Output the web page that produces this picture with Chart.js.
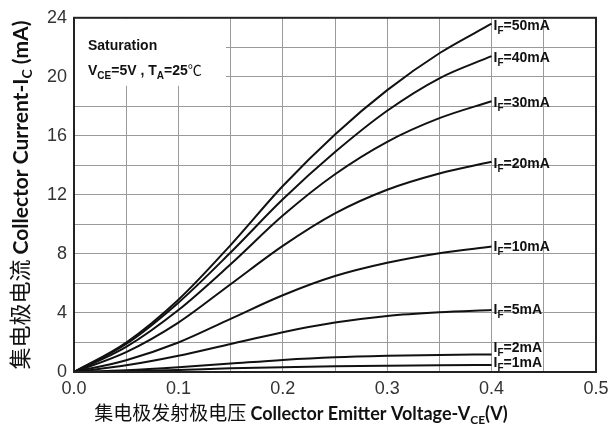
<!DOCTYPE html>
<html>
<head>
<meta charset="utf-8">
<script src="https://cdn.jsdelivr.net/npm/chart.js@4.4.1/dist/chart.umd.min.js"></script>
<style>
  html, body { margin: 0; padding: 0; background: #fff; }
  #wrap { width: 608px; height: 438px; }
</style>
</head>
<body>
<div id="wrap"><canvas id="myChart" width="608" height="438"></canvas></div>
<script>
// collector-emitter voltage (V)
var vce = [0, 0.05, 0.1, 0.15, 0.2, 0.25, 0.3, 0.35, 0.4];
// collector current (mA) per forward current
var if1  = [0, 0.05, 0.14, 0.25, 0.33, 0.39, 0.43, 0.46, 0.47];
var if2  = [0, 0.12, 0.32, 0.57, 0.82, 1.00, 1.10, 1.16, 1.19];
var if5  = [0, 0.45, 1.10, 1.90, 2.70, 3.35, 3.80, 4.05, 4.20];
var if10 = [0, 0.80, 2.00, 3.60, 5.20, 6.50, 7.40, 8.05, 8.50];
var if20 = [0, 1.35, 3.35, 5.95, 8.55, 10.75, 12.35, 13.45, 14.25];
var if30 = [0, 1.70, 4.20, 7.30, 10.60, 13.40, 15.60, 17.20, 18.35];
var if40 = [0, 1.90, 4.70, 8.10, 11.70, 14.90, 17.70, 19.90, 21.40];
var if50 = [0, 2.00, 4.90, 8.60, 12.60, 16.10, 19.10, 21.60, 23.60];
var seriesNames = ['50mA', '40mA', '30mA', '20mA', '10mA', '5mA', '2mA', '1mA'];
var seriesData = [if50, if40, if30, if20, if10, if5, if2, if1];
// label vertical nudges (px)
var labelShift = [2, 2, 2, 2, 0, 0, -6, -2];

var xTicks = [0, 0.1, 0.2, 0.3, 0.4, 0.5];
var yTicks = [0, 4, 8, 12, 16, 20, 24];

var sans = 'Arial, "Liberation Sans", sans-serif';
var cjk = '"Noto Sans CJK SC", sans-serif';
var bold2 = 'Lato, "Open Sans", sans-serif';

function drawRuns(ctx, x, y, runs, measureOnly) {
  var w = 0;
  runs.forEach(function (r) {
    ctx.font = r.font;
    if (!measureOnly) ctx.fillText(r.t, x + w, y + (r.dy || 0));
    w += ctx.measureText(r.t).width;
  });
  return w;
}

var textPlugin = {
  id: 'texts',
  beforeDatasetsDraw: function (chart) {
    var ctx = chart.ctx, a = chart.chartArea;
    ctx.save();
    ctx.fillStyle = '#fff';
    ctx.fillRect(a.left + 1, a.top + 1, 151, 67);
    ctx.restore();
  },
  afterDatasetsDraw: function (chart) {
    var ctx = chart.ctx, a = chart.chartArea;
    var xs = chart.scales.x, ys = chart.scales.y;
    ctx.save();
    ctx.strokeStyle = '#222';
    ctx.lineWidth = 2;
    ctx.strokeRect(a.left, a.top, a.right - a.left, a.bottom - a.top);

    ctx.fillStyle = '#111';
    ctx.textBaseline = 'alphabetic';
    // annotation in the top-left corner
    drawRuns(ctx, a.left + 14, a.top + 32, [{ t: 'Saturation', font: 'bold 14px ' + sans }]);
    drawRuns(ctx, a.left + 14, a.top + 57, [
      { t: 'V', font: 'bold 14px ' + sans },
      { t: 'CE', font: 'bold 10px ' + sans, dy: 4 },
      { t: '=5V , T', font: 'bold 14px ' + sans },
      { t: 'A', font: 'bold 10px ' + sans, dy: 4 },
      { t: '=25', font: 'bold 14px ' + sans },
      { t: '\u2103', font: '14px ' + cjk }
    ]);

    // curve labels at line ends
    seriesData.forEach(function (arr, i) {
      var lx = xs.getPixelForValue(vce[vce.length - 1]) + 2;
      var ly = ys.getPixelForValue(arr[arr.length - 1]) + labelShift[i] + 4;
      drawRuns(ctx, lx, ly, [
        { t: 'I', font: 'bold 14px ' + sans },
        { t: 'F', font: 'bold 10px ' + sans, dy: 4 },
        { t: '=' + seriesNames[i], font: 'bold 14px ' + sans }
      ]);
    });
    ctx.restore();
  },
  afterDraw: function (chart) {
    var ctx = chart.ctx;
    ctx.save();
    ctx.fillStyle = '#111';
    ctx.textBaseline = 'alphabetic';
    // x title
    var xr = [
      { t: '集电极发射极电压 ', font: '19px ' + cjk },
      { t: 'Collector Emitter Voltage-V', font: 'bold 18px ' + bold2 },
      { t: 'CE', font: 'bold 12px ' + bold2, dy: 4 },
      { t: '(V)', font: 'bold 18px ' + bold2 }
    ];
    var xw = drawRuns(ctx, 0, 0, xr, true);
    drawRuns(ctx, 301 - xw / 2, 420, xr);
    // y title
    var yr = [
      { t: '集电极电流 ', font: '22px ' + cjk },
      { t: 'Collector Current-I', font: 'bold 21px ' + bold2 },
      { t: 'C', font: 'bold 14px ' + bold2, dy: 4 },
      { t: ' (mA)', font: 'bold 21px ' + bold2 }
    ];
    var yw = drawRuns(ctx, 0, 0, yr, true);
    ctx.translate(28, 195);
    ctx.rotate(-Math.PI / 2);
    drawRuns(ctx, -yw / 2, 0, yr);
    ctx.restore();
  }
};

var datasets = seriesData.map(function (arr, i) {
  return {
    label: 'IF=' + seriesNames[i],
    data: vce.map(function (v, j) { return { x: v, y: arr[j] }; }),
    borderColor: '#111',
    borderWidth: 2,
    pointRadius: 0,
    fill: false,
    cubicInterpolationMode: 'monotone'
  };
});

var ctx = document.getElementById('myChart').getContext('2d');
var myChart = new Chart(ctx, {
  type: 'line',
  data: { datasets: datasets },
  options: {
    responsive: false,
    animation: false,
    events: [],
    layout: { padding: { left: 0, right: 12, top: 14, bottom: 0 } },
    plugins: { legend: { display: false }, tooltip: { enabled: false } },
    scales: {
      x: {
        type: 'linear',
        min: 0,
        max: 0.5,
        afterBuildTicks: function (scale) {
          var t = [];
          for (var i = 0; i <= 10; i++) t.push({ value: i * 0.05 });
          scale.ticks = t;
        },
        afterFit: function (scale) {
          scale.height = 66;
          scale.paddingLeft = 0;
          scale.paddingRight = 0;
        },
        grid: { color: '#9a9a9a', lineWidth: 1, drawTicks: false },
        border: { display: false },
        ticks: {
          padding: 6,
          color: '#333',
          font: { family: sans, size: 18 },
          autoSkip: false,
          maxRotation: 0,
          callback: function (value) {
            var r = Math.round(value * 100) / 100;
            return xTicks.some(function (t) { return Math.abs(t - r) < 1e-6; }) ? r.toFixed(1) : '';
          }
        }
      },
      y: {
        min: 0,
        max: 24,
        afterBuildTicks: function (scale) {
          var t = [];
          for (var i = 0; i <= 12; i++) t.push({ value: i * 2 });
          scale.ticks = t;
        },
        afterFit: function (scale) { scale.width = 74; },
        grid: { color: '#9a9a9a', lineWidth: 1, drawTicks: false },
        border: { display: false },
        ticks: {
          padding: 7,
          color: '#333',
          font: { family: sans, size: 18 },
          autoSkip: false,
          callback: function (value) {
            return yTicks.indexOf(value) >= 0 ? String(value) : '';
          }
        }
      }
    }
  },
  plugins: [textPlugin]
});
</script>
</body>
</html>
